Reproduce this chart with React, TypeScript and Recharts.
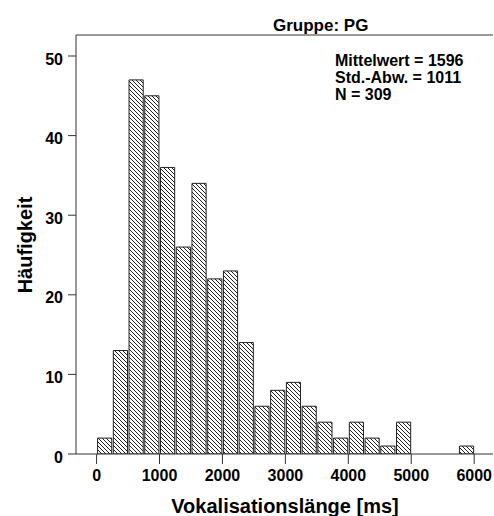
import React from 'react';
import { ComposedChart, Bar, XAxis, YAxis, ReferenceLine } from 'recharts';

// histogram bins (ms, lower edge) and counts
const binStarts = [0, 250, 500, 750, 1000, 1250, 1500, 1750, 2000, 2250, 2500, 2750, 3000, 3250, 3500, 3750, 4000, 4250, 4500, 4750, 5000, 5250, 5500, 5750];
const counts = [2, 13, 47, 45, 36, 26, 34, 22, 23, 14, 6, 8, 9, 6, 4, 2, 4, 2, 1, 4, 0, 0, 0, 1];
const binWidth = 250;

const xTicks = [0, 1000, 2000, 3000, 4000, 5000, 6000];
const yTicks = [0, 10, 20, 30, 40, 50];
const statLines = ['Mittelwert = 1596', 'Std.-Abw. = 1011', 'N = 309'];

const data = binStarts.map((s, i) => ({ mid: s + binWidth / 2, count: counts[i] }));

const W = 494;
const H = 516;
const xDomain: [number, number] = [-327, 6299];
const yMax = 52.64;
const plotLeft = 76;
const plotRight = 493;
const barSize = (binWidth * (plotRight - plotLeft)) / (xDomain[1] - xDomain[0]);

const font = '"Liberation Sans", Arial, sans-serif';
const axisColor = '#333';

const XTick = (props: any) => (
  <text x={props.x} y={props.y} dy="0.71em" textAnchor="middle" fontSize={16} fontWeight="bold" fill="#000" fontFamily={font}>
    {props.payload.value}
  </text>
);

const YTick = (props: any) => (
  <text x={props.x} y={props.y + 3} dy="0.355em" textAnchor="end" fontSize={16} fontWeight="bold" fill="#000" fontFamily={font}>
    {props.payload.value}
  </text>
);

export default function App() {
  return (
    <div style={{ position: 'absolute', left: 0, top: 0, width: W, height: H, background: '#fff' }}>
      <ComposedChart width={W} height={H} data={data} margin={{ top: 35, right: W - plotRight, bottom: 0, left: 0 }}>
        <defs>
          <pattern id="hatch" patternUnits="userSpaceOnUse" width="4" height="4">
            <rect width="4" height="4" fill="#fff" />
            <path d="M-1,-1 L5,5 M-1,3 L1,5 M3,-1 L5,1" stroke="#222" strokeWidth={1} />
          </pattern>
        </defs>
        <XAxis
          dataKey="mid"
          type="number"
          domain={xDomain}
          ticks={xTicks}
          allowDataOverflow
          height={62}
          tickSize={10}
          tickMargin={6}
          tick={XTick}
          stroke={axisColor}
          interval={0}
        />
        <YAxis
          domain={[0, yMax]}
          ticks={yTicks}
          allowDataOverflow
          width={plotLeft}
          tickSize={8}
          tickMargin={5}
          tick={YTick}
          stroke={axisColor}
          interval={0}
        />
        <ReferenceLine y={yMax} stroke={axisColor} strokeWidth={1} ifOverflow="extendDomain" />
        <Bar dataKey="count" fill="url(#hatch)" stroke="#222" strokeWidth={1} barSize={barSize} isAnimationActive={false} />
      </ComposedChart>
      <svg width={W} height={H} style={{ position: 'absolute', left: 0, top: 0, pointerEvents: 'none' }} fontFamily={font}>
        <text x={273} y={31} fontSize={17} fontWeight="bold" fill="#000">Gruppe: PG</text>
        {statLines.map((t, i) => (
          <text key={t} x={335} y={66 + i * 17.2} fontSize={16} fontWeight="bold" fill="#000">{t}</text>
        ))}
        <text x={285} y={513} textAnchor="middle" fontSize={20} fontWeight="bold" fill="#000">Vokalisationslänge [ms]</text>
        <text x={32} y={245} transform="rotate(-90 32 245)" textAnchor="middle" fontSize={20} fontWeight="bold" fill="#000">Häufigkeit</text>
      </svg>
    </div>
  );
}
